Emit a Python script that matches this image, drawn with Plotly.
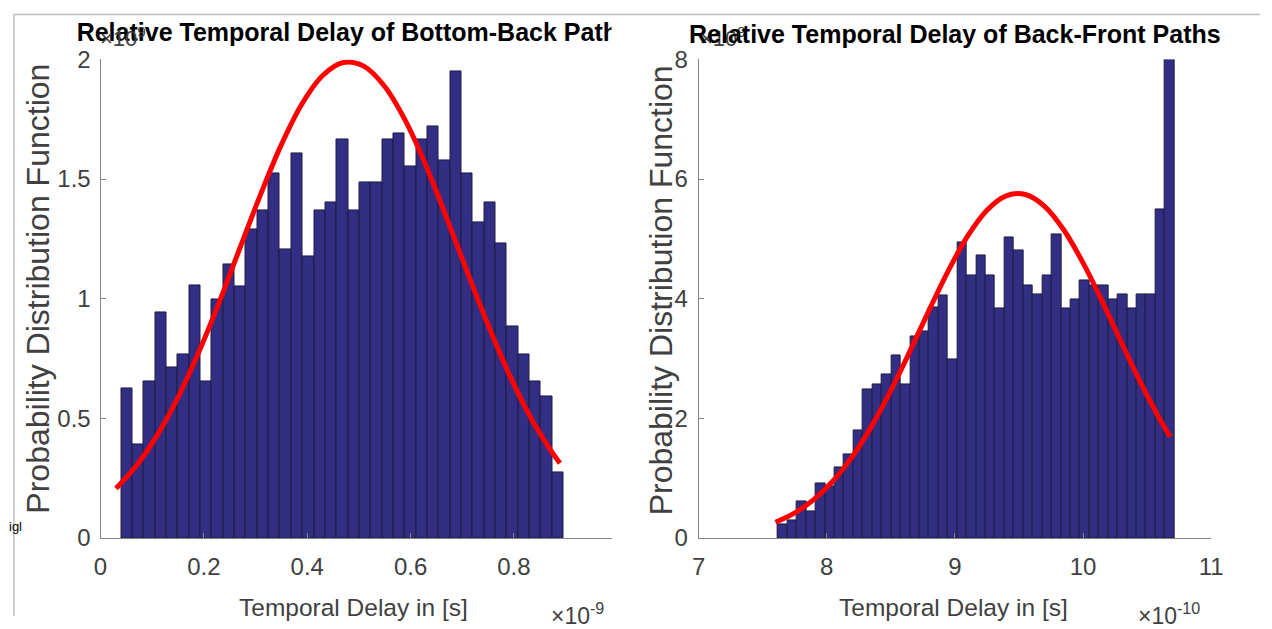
import plotly.graph_objects as go

W, H = 1272, 629

# ---------------- data ----------------
# Left: Bottom-Back paths (x in 1e-9 s, pdf in 1e9)
left_bin_start = 0.040
left_bin_width = 0.02195
left_counts = [0.623, 0.393, 0.654, 0.943, 0.711, 0.766, 1.056, 0.654, 0.996, 1.142,
               1.050, 1.289, 1.370, 1.523, 1.205, 1.608, 1.176, 1.370, 1.403, 1.665,
               1.370, 1.488, 1.488, 1.665, 1.690, 1.551, 1.665, 1.721, 1.579, 1.951,
               1.523, 1.317, 1.403, 1.230, 0.884, 0.766, 0.654, 0.591, 0.273]
left_fit_x = [0.03, 0.07, 0.11, 0.15, 0.19, 0.23, 0.27, 0.31, 0.35, 0.39, 0.43, 0.47,
              0.51, 0.55, 0.59, 0.63, 0.67, 0.71, 0.75, 0.79, 0.83, 0.87, 0.889]
left_fit_y = [0.207, 0.304, 0.431, 0.588, 0.776, 0.987, 1.213, 1.437, 1.644, 1.815, 1.933, 1.987,
              1.971, 1.887, 1.744, 1.555, 1.337, 1.110, 0.890, 0.688, 0.513, 0.370, 0.312]

# Right: Back-Front paths (x in 1e-10 s, pdf in 1e9)
right_bin_start = 7.6195
right_bin_width = 0.07366
right_counts = [0.23, 0.30, 0.61, 0.44, 0.915, 0.86, 1.18, 1.39, 1.80, 2.49,
                2.57, 2.74, 3.05, 2.57, 3.37, 3.45, 3.85, 4.05, 2.98, 4.94,
                4.385, 4.72, 4.385, 3.83, 5.02, 4.80, 4.23, 4.07, 4.385, 5.08,
                3.83, 3.98, 4.31, 4.23, 4.23, 3.98, 4.07, 3.83, 4.07, 4.07,
                5.49, 8.0]
right_fit_x = [7.60, 7.75, 7.90, 8.05, 8.20, 8.35, 8.50, 8.65, 8.80, 8.95, 9.10,
               9.25, 9.40, 9.55, 9.70, 9.85, 10.00, 10.15, 10.30, 10.45, 10.60, 10.68]
right_fit_y = [0.262, 0.419, 0.646, 0.957, 1.364, 1.870, 2.466, 3.127, 3.815, 4.475, 5.049,
               5.480, 5.720, 5.742, 5.545, 5.149, 4.599, 3.951, 3.264, 2.594, 1.983, 1.691]

left_xticks = [0, 0.2, 0.4, 0.6, 0.8]
left_xticklabels = ["0", "0.2", "0.4", "0.6", "0.8"]
left_yticks = [0, 0.5, 1, 1.5, 2]
left_yticklabels = ["0", "0.5", "1", "1.5", "2"]
right_xticks = [7, 8, 9, 10, 11]
right_xticklabels = ["7", "8", "9", "10", "11"]
right_yticks = [0, 2, 4, 6, 8]
right_yticklabels = ["0", "2", "4", "6", "8"]

left_title = "Relative Temporal Delay of Bottom-Back Paths"
right_title = "Relative Temporal Delay of Back-Front Paths"
x_title = "Temporal Delay in [s]"
y_title = "Probability Distribution Function"

# ---------------- layout helpers (target pixel -> paper fraction) ----------------
SX, OX = 0.984, 7.1
SY, OY = 0.956, 14.6

def px(x):
    return max(0.0, ((x - OX) / SX) / W)

def py(y):
    return min(1.0, (H - (y - OY) / SY) / H)

FONT = "Liberation Sans, Arial, Helvetica, sans-serif"
GRAY = "#404040"
AXC = "#858585"
BAR = "#322e84"
EDGE = "#1e1d40"
RED = "#ff0000"

left_centers = [left_bin_start + (i + 0.5) * left_bin_width for i in range(len(left_counts))]
right_centers = [right_bin_start + (i + 0.5) * right_bin_width for i in range(len(right_counts))]

fig = go.Figure()
fig.add_trace(go.Bar(x=left_centers, y=left_counts, width=left_bin_width,
                     marker=dict(color=BAR, line=dict(color=EDGE, width=1)),
                     xaxis="x", yaxis="y", showlegend=False, hoverinfo="skip"))
fig.add_trace(go.Scatter(x=left_fit_x, y=left_fit_y, mode="lines",
                         line=dict(color=RED, width=5, shape="spline"),
                         xaxis="x", yaxis="y", showlegend=False))
fig.add_trace(go.Bar(x=right_centers, y=right_counts, width=right_bin_width,
                     marker=dict(color=BAR, line=dict(color=EDGE, width=1)),
                     xaxis="x2", yaxis="y2", showlegend=False, hoverinfo="skip"))
fig.add_trace(go.Scatter(x=right_fit_x, y=right_fit_y, mode="lines",
                         line=dict(color=RED, width=5, shape="spline"),
                         xaxis="x2", yaxis="y2", showlegend=False))

# Left title: clipped text in an invisible helper subplot (the reference cuts it at the right)
fig.add_trace(go.Scatter(x=[354], y=[35], mode="text", text=[left_title],
                         textfont=dict(family=FONT, size=25, color="black", weight="bold"),
                         textposition="middle center", cliponaxis=True,
                         xaxis="x3", yaxis="y3", showlegend=False, hoverinfo="skip"))

ydom = [py(538), py(60)]
axis_common = dict(showline=True, linecolor=AXC, linewidth=1, ticks="inside", ticklen=5,
                   tickcolor=AXC, showgrid=False, zeroline=False,
                   tickfont=dict(family=FONT, size=24, color=GRAY))

fig.update_layout(
    width=W, height=H, autosize=False,
    margin=dict(l=0, r=0, t=0, b=0, pad=0),
    paper_bgcolor="white", plot_bgcolor="white",
    bargap=0,
    xaxis=dict(domain=[px(100.5), px(611)], range=[0, 0.9889], tickvals=left_xticks,
               ticktext=left_xticklabels, anchor="y", ticklabelstandoff=7, **axis_common),
    yaxis=dict(domain=ydom, range=[0, 2], tickvals=left_yticks, ticktext=left_yticklabels,
               anchor="x", ticklabelstandoff=4, **axis_common),
    xaxis2=dict(domain=[px(698), px(1210)], range=[7, 11], tickvals=right_xticks,
                ticktext=right_xticklabels, anchor="y2", ticklabelstandoff=7, **axis_common),
    yaxis2=dict(domain=ydom, range=[0, 8], tickvals=right_yticks, ticktext=right_yticklabels,
                anchor="x2", ticklabelstandoff=5, **axis_common),
    xaxis3=dict(domain=[px(20), px(611)], range=[20, 611], visible=False, anchor="y3"),
    yaxis3=dict(domain=[py(60), py(16)], range=[60, 16], visible=False, anchor="x3"),
)

ann = []
def add_text(text, x, y, size, color=GRAY, xanchor="center", angle=0, family=FONT):
    ann.append(dict(text=text, x=px(x), y=py(y), xref="paper", yref="paper",
                    xanchor=xanchor, yanchor="middle", showarrow=False, textangle=angle,
                    font=dict(family=family, size=size, color=color)))

add_text("×10<sup>9</sup>", 98, 38, 22, xanchor="left")
add_text("×10<sup>9</sup>", 697, 38, 22, xanchor="left")
add_text("<b>" + right_title + "</b>", 954, 35, 25, color="black")
add_text(x_title, 353, 607, 24.5)
add_text(x_title, 953, 607, 24.5)
add_text(y_title, 38, 289, 32, angle=-90)
add_text(y_title, 660, 291, 32, angle=-90)
add_text("×10<sup>-9</sup>", 549, 614, 23, xanchor="left")
add_text("×10<sup>-10</sup>", 1135, 614, 23, xanchor="left")
add_text("igl", 0, 527, 13, color="black", xanchor="left")
fig.update_layout(annotations=ann)

fig.update_layout(shapes=[
    dict(type="line", xref="paper", yref="paper", x0=px(14), x1=px(14), y0=0.999, y1=0,
         line=dict(color="#bdbdbd", width=1.5)),
    dict(type="line", xref="paper", yref="paper", x0=px(14), x1=1, y0=0.999, y1=0.999,
         line=dict(color="#bdbdbd", width=1.5)),
])

post = ("document.documentElement.style.margin='0';document.documentElement.style.padding='0';"
        "document.body.style.margin='0';document.body.style.padding='0';"
        "document.documentElement.style.overflow='hidden';document.body.style.overflow='hidden';")
fig.write_html("out.html", post_script=post)
